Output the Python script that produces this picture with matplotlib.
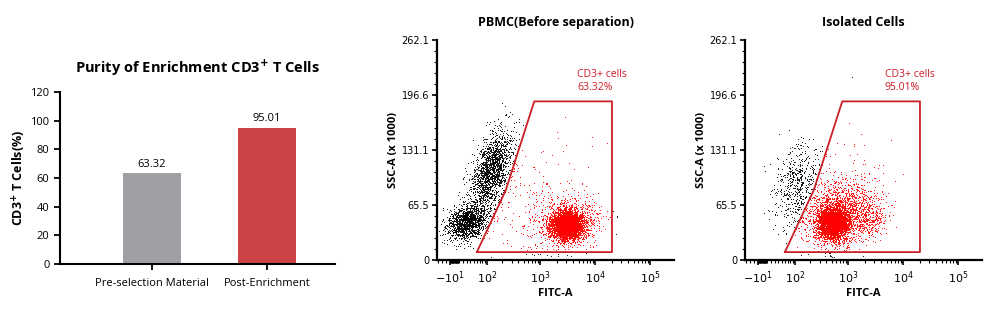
import numpy as np
import matplotlib
matplotlib.use('Agg')
import matplotlib.pyplot as plt
from matplotlib.path import Path
from matplotlib.ticker import FixedLocator

plt.rcParams['font.family'] = ['Open Sans', 'DejaVu Sans']

# ---- bar chart data
bar_labels = ['Pre-selection Material', 'Post-Enrichment']
bar_values = [63.32, 95.01]
bar_colors = ['#a09fa4', '#cc4245']

# ---- flow data (FITC-A, SSC-A x1000), cluster centres/spreads
# each cluster: FITC centre, SSC centre, spread in decades, SSC spread, corr, n events
pbmc_clusters = [
    (30, 45, 0.19, 10, 0.25, 1400),
    (120, 105, 0.19, 24, 0.5, 1700),
    (3080, 42, 0.15, 9, 0.0, 3000),
    (3080, 46, 0.32, 17, 0.0, 800),
    (700, 75, 0.45, 38, 0.3, 130),
]
iso_clusters = [
    (110, 92, 0.22, 24, 0.3, 520),
    (530, 44, 0.14, 10, 0.0, 3000),
    (700, 56, 0.33, 20, 0.2, 1600),
    (2570, 48, 0.16, 10, 0.0, 260),
    (900, 90, 0.35, 35, 0.3, 100),
]
gate_fitc = [60, 20200, 20200, 780, 233]
gate_ssc = [9.5, 9.5, 189, 189, 83]
gate_pct = ['63.32%', '95.01%']
flow_titles = ['PBMC(Before separation)', 'Isolated Cells']
ssc_ticks = [0, 65.5, 131.1, 196.6, 262.1]
fitc_ticks = [-10, 100, 1000, 10000, 100000]
fitc_ticklabels = [r'$-10^1$', r'$10^2$', r'$10^3$', r'$10^4$', r'$10^5$']

C = 55.0


def fwd(x):
    return np.arcsinh(np.asarray(x, dtype=float) / C) / np.log(10)


def inv(u):
    return C * np.sinh(np.asarray(u, dtype=float) * np.log(10))


fig = plt.figure(figsize=(10, 3.1), dpi=100)

# ---------------- bar chart
ax = fig.add_axes([0.060, 0.148, 0.275, 0.555])
xpos = np.arange(len(bar_values))
ax.bar(xpos, bar_values, width=0.5, color=bar_colors)
for x, v in zip(xpos, bar_values):
    ax.text(x, v + 2.5, f'{v:.2f}', ha='center', va='bottom', fontsize=8)
ax.set_xlim(-0.8, 1.59)
ax.set_ylim(0, 120)
ax.set_yticks(range(0, 121, 20))
ax.set_xticks(xpos)
ax.set_xticklabels(bar_labels, fontsize=8)
ax.tick_params(axis='y', labelsize=8, width=1.3, length=4)
ax.tick_params(axis='x', width=1.3, length=4, pad=6)
for s in ['top', 'right']:
    ax.spines[s].set_visible(False)
for s in ['left', 'bottom']:
    ax.spines[s].set_linewidth(1.5)
ax.set_ylabel(r'CD3$^{\mathbf{+}}$ T Cells(%)', fontsize=9, fontweight='bold', labelpad=2)
ax.set_title(r'Purity of Enrichment CD3$^{\mathbf{+}}$ T Cells', fontsize=10.5,
             fontweight='bold', pad=14)

# ---------------- flow plots
# the cell clouds are drawn from the cluster parameters above (seeded, only for the dot texture)
rng = np.random.default_rng(11)
gate_path = Path(np.column_stack([fwd(gate_fitc), gate_ssc]), closed=False)

minor_x = []
for k in range(0, 5):
    for m in range(1, 10):
        minor_x.append(m * 10 ** k)
        if k < 2:
            minor_x.append(-m * 10 ** k)

for i, (clusters, left) in enumerate([(pbmc_clusters, 0.437), (iso_clusters, 0.745)]):
    fa = fig.add_axes([left, 0.161, 0.237, 0.71])
    fa.set_xscale('function', functions=(fwd, inv))
    us, ys = [], []
    for cx, cy, su, sy, r, n in clusters:
        cov = [[su ** 2, r * su * sy], [r * su * sy, sy ** 2]]
        pts = rng.multivariate_normal([fwd(cx), cy], cov, size=n)
        us.append(pts[:, 0])
        ys.append(pts[:, 1])
    u = np.concatenate(us)
    y = np.concatenate(ys)
    keep = (y > 3) & (y < 250)
    u, y = u[keep], y[keep]
    inside = gate_path.contains_points(np.column_stack([u, y]))
    fitc = inv(u)
    fa.scatter(fitc[~inside], y[~inside], s=0.6, c='black', linewidths=0)
    fa.scatter(fitc[inside], y[inside], s=0.6, c='#ff0000', linewidths=0)

    gx = list(gate_fitc) + [gate_fitc[0]]
    gy = list(gate_ssc) + [gate_ssc[0]]
    fa.plot(gx, gy, color='#cc1f25', lw=1.3)
    fa.text(4650, 228, 'CD3+ cells\n' + gate_pct[i], color='#cc1f25', fontsize=7.5,
            va='top', ha='left', linespacing=1.3)

    fa.set_xlim(inv(-0.315), inv(3.994))
    fa.set_ylim(0, 262.1)
    fa.xaxis.set_major_locator(FixedLocator(fitc_ticks))
    fa.xaxis.set_minor_locator(FixedLocator(minor_x))
    fa.set_xticklabels(fitc_ticklabels, family='DejaVu Sans', fontsize=8)
    fa.set_yticks(ssc_ticks)
    fa.set_yticklabels(['0', '65.5', '131.1', '196.6', '262.1'], family='DejaVu Sans', fontsize=7)
    fa.yaxis.set_minor_locator(FixedLocator(np.arange(0, 262.2, 262.1 / 20)))
    fa.tick_params(axis='both', which='major', length=3.5, width=1.2)
    fa.tick_params(axis='both', which='minor', length=2, width=0.8)
    fa.tick_params(axis='y', pad=2)
    for s in ['top', 'right']:
        fa.spines[s].set_visible(False)
    for s in ['left', 'bottom']:
        fa.spines[s].set_linewidth(1.6)
    fa.set_xlabel('FITC-A', fontsize=8, fontweight='bold', labelpad=1)
    fa.set_ylabel('SSC-A (x 1000)', fontsize=8, fontweight='bold', labelpad=2)
    fa.set_title(flow_titles[i], fontsize=9, fontweight='bold', pad=10)

fig.savefig('out.png', dpi=100)
